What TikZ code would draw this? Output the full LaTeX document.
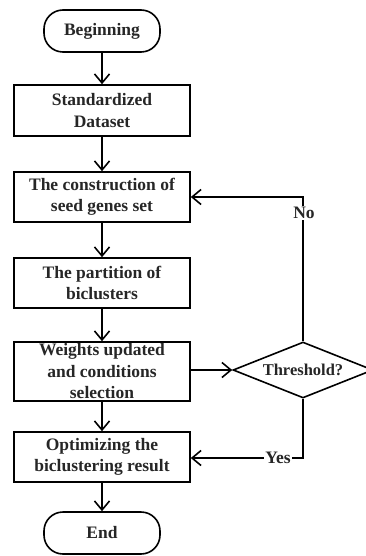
\documentclass[tikz,border=0pt]{standalone}
\usepackage{fontspec}
\setmainfont{Liberation Serif}
\usetikzlibrary{shapes.geometric,arrows.meta}
\begin{document}
\begin{tikzpicture}[x=1pt,y=-1pt,
  every node/.style={font=\fontsize{17.5}{21.5}\selectfont\bfseries, text=black!85, inner sep=0pt},
  proc/.style={draw, line width=1.6pt, minimum width=176pt, align=center},
  term/.style={draw, line width=1.6pt, minimum width=116pt, minimum height=42pt, rounded corners=19pt},
  dec/.style={draw, line width=1.6pt, diamond, aspect=2.5, minimum width=140pt, minimum height=56pt, inner sep=0pt},
  lbl/.style={fill=white, inner sep=1pt},
  conn/.style={line width=1.6pt, -{Straight Barb[length=9pt,width=15pt,line width=1.6pt]}}]
\useasboundingbox (0,0) rectangle (366,556);
\node[term] (begin) at (102,31) {Beginning};
\node[proc, minimum height=51pt] (std) at (102,110.5) {Standardized\\Dataset};
\node[proc, minimum height=50pt] (seed) at (102,197) {The construction of\\seed genes set};
\node[proc, minimum height=50pt] (part) at (102,283) {The partition of\\biclusters};
\node[proc, minimum height=59pt] (wts) at (102,371.5) {Weights updated\\and conditions\\selection};
\node[proc, minimum height=50pt] (opt) at (102,457) {Optimizing the\\biclustering result};
\node[term, minimum height=42pt] (end) at (102,533) {End};
\node[dec, font=\fontsize{16.5}{20}\selectfont\bfseries] (thr) at (303,370) {Threshold?};
\coordinate (noc) at (303,197);
\coordinate (yesc) at (303,458);
\draw[conn] (begin) -- (std);
\draw[conn] (std) -- (seed);
\draw[conn] (seed) -- (part);
\draw[conn] (part) -- (wts);
\draw[conn] (wts) -- (opt);
\draw[conn] (opt) -- (end);
\draw[conn] (wts.east |- thr.west) -- (thr.west);
\draw[conn] (thr.north) -- (noc) -- (seed.east);
\draw[conn] (thr.south) -- (yesc) -- (opt.east |- yesc);
\node[lbl] (no) at (304,213) {No};
\node[lbl] (yes) at (278,458) {Yes};
\end{tikzpicture}
\end{document}
